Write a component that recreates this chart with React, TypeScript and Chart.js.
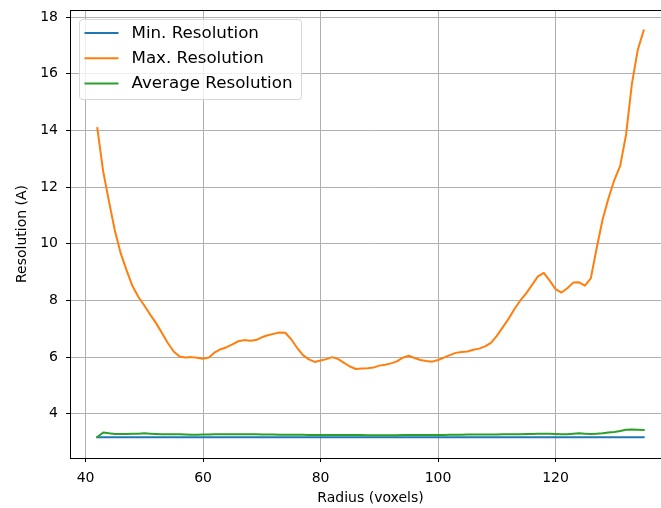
import React, { useEffect, useRef } from "react";
import { Chart, registerables } from "chart.js";

Chart.register(...registerables);

const radius = [
  42, 43, 44, 45, 46, 47, 48, 49, 50, 51, 52, 53, 54, 55, 56, 57, 58, 59, 60, 61,
  62, 63, 64, 65, 66, 67, 68, 69, 70, 71, 72, 73, 74, 75, 76, 77, 78, 79, 80, 81,
  82, 83, 84, 85, 86, 87, 88, 89, 90, 91, 92, 93, 94, 95, 96, 97, 98, 99, 100, 101,
  102, 103, 104, 105, 106, 107, 108, 109, 110, 111, 112, 113, 114, 115, 116, 117, 118, 119, 120, 121,
  122, 123, 124, 125, 126, 127, 128, 129, 130, 131, 132, 133, 134, 135,
];

const minResolution = [
  3.17, 3.17, 3.17, 3.17, 3.17, 3.17, 3.17, 3.17, 3.17, 3.17, 3.17, 3.17, 3.17, 3.17, 3.17, 3.17, 3.17, 3.17, 3.17, 3.17,
  3.17, 3.17, 3.17, 3.17, 3.17, 3.17, 3.17, 3.17, 3.17, 3.17, 3.17, 3.17, 3.17, 3.17, 3.17, 3.17, 3.17, 3.17, 3.17, 3.17,
  3.17, 3.17, 3.17, 3.17, 3.17, 3.17, 3.17, 3.17, 3.17, 3.17, 3.17, 3.17, 3.17, 3.17, 3.17, 3.17, 3.17, 3.17, 3.17, 3.17,
  3.17, 3.17, 3.17, 3.17, 3.17, 3.17, 3.17, 3.17, 3.17, 3.17, 3.17, 3.17, 3.17, 3.17, 3.17, 3.17, 3.17, 3.17, 3.17, 3.17,
  3.17, 3.17, 3.17, 3.17, 3.17, 3.17, 3.17, 3.17, 3.17, 3.17, 3.17, 3.17, 3.17, 3.17,
];

const maxResolution = [
  14.08, 12.55, 11.48, 10.45, 9.65, 9.05, 8.5, 8.12, 7.82, 7.5, 7.2, 6.85, 6.5, 6.2, 6.02, 5.99, 6.0, 5.98, 5.94, 5.99,
  6.17, 6.28, 6.35, 6.45, 6.56, 6.6, 6.58, 6.6, 6.7, 6.77, 6.82, 6.87, 6.86, 6.63, 6.33, 6.07, 5.92, 5.83, 5.88, 5.93,
  6.0, 5.93, 5.8, 5.67, 5.58, 5.6, 5.61, 5.63, 5.7, 5.73, 5.78, 5.85, 5.98, 6.05, 5.97, 5.9, 5.86, 5.84, 5.9, 5.98,
  6.07, 6.15, 6.18, 6.2, 6.26, 6.3, 6.38, 6.5, 6.75, 7.05, 7.35, 7.7, 8.0, 8.25, 8.55, 8.85, 8.97, 8.7, 8.4, 8.28,
  8.43, 8.63, 8.64, 8.52, 8.78, 9.85, 10.85, 11.6, 12.25, 12.75, 13.85, 15.65, 16.85, 17.53,
];

const avgResolution = [
  3.18, 3.34, 3.31, 3.29, 3.29, 3.29, 3.3, 3.3, 3.31, 3.3, 3.29, 3.28, 3.28, 3.28, 3.28, 3.27, 3.26, 3.26, 3.27, 3.27,
  3.28, 3.28, 3.28, 3.28, 3.28, 3.28, 3.28, 3.28, 3.27, 3.27, 3.27, 3.26, 3.26, 3.26, 3.26, 3.26, 3.25, 3.25, 3.25, 3.25,
  3.25, 3.25, 3.25, 3.25, 3.25, 3.25, 3.24, 3.24, 3.24, 3.24, 3.24, 3.24, 3.25, 3.25, 3.25, 3.25, 3.25, 3.25, 3.25, 3.25,
  3.26, 3.26, 3.26, 3.27, 3.27, 3.27, 3.27, 3.27, 3.27, 3.28, 3.28, 3.28, 3.28, 3.29, 3.29, 3.3, 3.3, 3.3, 3.29, 3.28,
  3.28, 3.3, 3.31, 3.3, 3.29, 3.3, 3.31, 3.34, 3.36, 3.39, 3.44, 3.45, 3.44, 3.43,
];

const seriesLabels = ["Min. Resolution", "Max. Resolution", "Average Resolution"];
const seriesColors = ["#1f77b4", "#ff7f0e", "#2ca02c"];
const xTicks = [40, 60, 80, 100, 120];
const yTicks = [4, 6, 8, 10, 12, 14, 16, 18];
const xTitle = "Radius (voxels)";
const yTitle = "Resolution (A)";

const FONT = "'DejaVu Sans', sans-serif";

const framePlugin = {
  id: "frame",
  afterDatasetsDraw(chart: any) {
    const { ctx, chartArea } = chart;
    ctx.save();
    ctx.strokeStyle = "#000";
    ctx.lineWidth = 1;
    ctx.strokeRect(
      Math.round(chartArea.left) + 0.5,
      Math.round(chartArea.top) + 0.5,
      Math.round(chartArea.right - chartArea.left),
      Math.round(chartArea.bottom - chartArea.top)
    );
    ctx.restore();
  },
  afterDraw(chart: any) {
    const { ctx } = chart;
    ctx.save();
    const x0 = 79.5, y0 = 19.5, w = 222, h = 80, r = 3;
    ctx.beginPath();
    ctx.moveTo(x0 + r, y0);
    ctx.lineTo(x0 + w - r, y0);
    ctx.arcTo(x0 + w, y0, x0 + w, y0 + r, r);
    ctx.lineTo(x0 + w, y0 + h - r);
    ctx.arcTo(x0 + w, y0 + h, x0 + w - r, y0 + h, r);
    ctx.lineTo(x0 + r, y0 + h);
    ctx.arcTo(x0, y0 + h, x0, y0 + h - r, r);
    ctx.lineTo(x0, y0 + r);
    ctx.arcTo(x0, y0, x0 + r, y0, r);
    ctx.closePath();
    ctx.fillStyle = "rgba(255,255,255,0.8)";
    ctx.fill();
    ctx.strokeStyle = "#d6d6d6";
    ctx.lineWidth = 1;
    ctx.stroke();
    const rows = [33, 58.3, 83.6];
    ctx.font = `16.7px ${FONT}`;
    ctx.textBaseline = "middle";
    ctx.textAlign = "left";
    seriesLabels.forEach((label, i) => {
      ctx.beginPath();
      ctx.strokeStyle = seriesColors[i];
      ctx.lineWidth = 2;
      ctx.moveTo(84.5, rows[i]);
      ctx.lineTo(118.5, rows[i]);
      ctx.stroke();
      ctx.fillStyle = "#000";
      ctx.fillText(label, 131.5, rows[i] + 0.5);
    });
    ctx.restore();
  },
};

export default function App() {
  const ref = useRef<HTMLCanvasElement>(null);
  useEffect(() => {
    if (!ref.current) return;
    const series = [minResolution, maxResolution, avgResolution];
    const chart = new Chart(ref.current, {
      type: "line",
      data: {
        datasets: series.map((vals, i) => ({
          label: seriesLabels[i],
          data: radius.map((r, j) => ({ x: r, y: vals[j] })),
          borderColor: seriesColors[i],
          backgroundColor: seriesColors[i],
          borderWidth: 2,
          pointRadius: 0,
          tension: 0,
          fill: false,
          borderJoinStyle: "round" as const,
          borderCapStyle: "square" as const,
          order: 3 - i,
        })),
      },
      options: {
        animation: false,
        responsive: false,
        devicePixelRatio: 1,
        layout: { padding: { top: 10, right: 4, left: 0, bottom: 0 } },
        plugins: { legend: { display: false }, tooltip: { enabled: false } },
        scales: {
          x: {
            type: "linear",
            min: 37.35,
            max: 139.65,
            afterBuildTicks: (s: any) => {
              s.ticks = xTicks.map((v) => ({ value: v }));
            },
            afterFit: (s: any) => {
              s.height = 50;
              s.paddingLeft = 0;
              s.paddingRight = 0;
            },
            grid: { color: "#b0b0b0", lineWidth: 1, tickColor: "#000", tickLength: 4 },
            border: { display: false },
            ticks: {
              color: "#000",
              font: { family: FONT, size: 14 },
              padding: 8,
              maxRotation: 0,
              autoSkip: false,
            },
            title: {
              display: true,
              text: xTitle,
              color: "#000",
              font: { family: FONT, size: 14, lineHeight: 1.2 },
              padding: { top: 0, bottom: 1 },
            },
          },
          y: {
            type: "linear",
            min: 2.44,
            max: 18.25,
            afterBuildTicks: (s: any) => {
              s.ticks = yTicks.map((v) => ({ value: v }));
            },
            afterFit: (s: any) => {
              s.width = 70;
              s.paddingTop = 0;
              s.paddingBottom = 0;
            },
            grid: { color: "#b0b0b0", lineWidth: 1, tickColor: "#000", tickLength: 4 },
            border: { display: false },
            ticks: {
              color: "#000",
              font: { family: FONT, size: 14 },
              padding: 8,
              autoSkip: false,
            },
            title: {
              display: true,
              text: yTitle,
              color: "#000",
              font: { family: FONT, size: 14, lineHeight: 1.2 },
              padding: { top: 14, bottom: 0 },
            },
          },
        },
      },
      plugins: [framePlugin],
    });
    return () => chart.destroy();
  }, []);
  return (
    <div style={{ position: "fixed", left: 0, top: 0, width: 661, height: 508, overflow: "hidden", background: "#fff" }}>
      <canvas ref={ref} width={675} height={508} style={{ width: 675, height: 508, display: "block" }} />
    </div>
  );
}
